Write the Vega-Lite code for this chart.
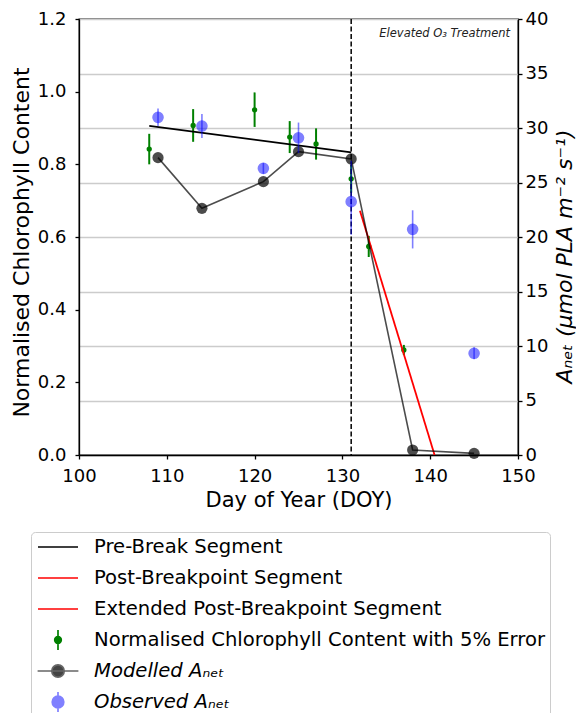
{
  "$schema": "https://vega.github.io/schema/vega-lite/v6.json",
  "width": 439,
  "height": 436,
  "autosize": {"type": "none"},
  "padding": {"left": 79, "top": 19, "right": 58, "bottom": 258},
  "background": "white",
  "config": {
    "font": "DejaVu Sans",
    "view": {"stroke": "black", "strokeWidth": 1.3},
    "axis": {
      "labelFont": "DejaVu Sans", "titleFont": "DejaVu Sans",
      "labelFontSize": 18, "titleFontSize": 21,
      "labelColor": "black", "titleColor": "black", "titleFontWeight": "normal",
      "tickColor": "black", "domainColor": "black", "tickSize": 4, "tickWidth": 1.3, "domainWidth": 1.3,
      "grid": false, "labelFlush": false
    }
  },
  "datasets": {
    "legend": [
      {"series": "Pre-Break Segment"},
      {"series": "Post-Breakpoint Segment"},
      {"series": "Extended Post-Breakpoint Segment"},
      {"series": "Normalised Chlorophyll Content with 5% Error"},
      {"series": "Modelled Aₙₑₜ"},
      {"series": "Observed Aₙₑₜ"}
    ],
    "chl": [
      {"doy": 108, "chl": 0.842, "lo": 0.800, "hi": 0.884},
      {"doy": 113, "chl": 0.907, "lo": 0.862, "hi": 0.952},
      {"doy": 120, "chl": 0.950, "lo": 0.903, "hi": 0.998},
      {"doy": 124, "chl": 0.875, "lo": 0.831, "hi": 0.919},
      {"doy": 127, "chl": 0.856, "lo": 0.813, "hi": 0.899},
      {"doy": 131, "chl": 0.760, "lo": 0.722, "hi": 0.798},
      {"doy": 133, "chl": 0.574, "lo": 0.545, "hi": 0.603},
      {"doy": 137, "chl": 0.289, "lo": 0.275, "hi": 0.303}
    ],
    "prebreak": [
      {"doy": 108, "chl": 0.906},
      {"doy": 131, "chl": 0.833}
    ],
    "post": [
      {"doy": 132, "chl": 0.672, "seg": "post"},
      {"doy": 137, "chl": 0.277, "seg": "post"},
      {"doy": 137, "chl": 0.277, "seg": "ext"},
      {"doy": 140.5, "chl": 0.0, "seg": "ext"}
    ],
    "vline": [{"doy": 131}],
    "note": [{"doy": 149.1, "chl": 1.16, "label": "Elevated O₃ Treatment"}],
    "modelled": [
      {"doy": 109, "anet": 27.28},
      {"doy": 114, "anet": 22.63},
      {"doy": 121, "anet": 25.08},
      {"doy": 125, "anet": 27.83},
      {"doy": 131, "anet": 27.16},
      {"doy": 138, "anet": 0.46},
      {"doy": 145, "anet": 0.15}
    ],
    "observed": [
      {"doy": 109, "anet": 30.98, "lo": 30.18, "hi": 31.78},
      {"doy": 114, "anet": 30.18, "lo": 29.08, "hi": 31.28},
      {"doy": 121, "anet": 26.3, "lo": 25.8, "hi": 26.8},
      {"doy": 125, "anet": 29.1, "lo": 27.7, "hi": 30.5},
      {"doy": 131, "anet": 23.24, "lo": 20.2, "hi": 27.0},
      {"doy": 138, "anet": 20.7, "lo": 18.95, "hi": 22.45},
      {"doy": 145, "anet": 9.33, "lo": 8.78, "hi": 9.88}
    ]
  },
  "layer": [
    {
      "data": {"name": "legend"},
      "transform": [{"filter": "false"}],
      "mark": {"type": "point", "filled": true, "opacity": 1},
      "encoding": {
        "fill": {
          "field": "series", "type": "nominal",
          "scale": {
            "domain": ["Pre-Break Segment", "Post-Breakpoint Segment", "Extended Post-Breakpoint Segment", "Normalised Chlorophyll Content with 5% Error", "Modelled Aₙₑₜ", "Observed Aₙₑₜ"],
            "range": ["black", "red", "red", "green", "#444444", "#8080ff"]
          },
          "legend": {
            "orient": "none", "legendX": -48, "legendY": 513, "title": null, "direction": "vertical",
            "labelFont": "DejaVu Sans", "labelFontSize": 19.6, "labelColor": "black", "labelLimit": 600,
            "labelFontStyle": {"expr": "indexof(['Modelled Aₙₑₜ', 'Observed Aₙₑₜ'], datum.value) >= 0 ? 'italic' : 'normal'"},
            "symbolSize": 400, "symbolStrokeWidth": 1.7, "symbolOffset": 12, "labelOffset": 25,
            "gridAlign": "all", "rowPadding": 3, "padding": 4,
            "fillColor": "white", "strokeColor": "#cccccc", "cornerRadius": 4
          }
        },
        "stroke": {
          "field": "series", "type": "nominal",
          "scale": {
            "domain": ["Pre-Break Segment", "Post-Breakpoint Segment", "Extended Post-Breakpoint Segment", "Normalised Chlorophyll Content with 5% Error", "Modelled Aₙₑₜ", "Observed Aₙₑₜ"],
            "range": ["black", "red", "red", "green", "#666666", "#8080ff"]
          }
        },
        "shape": {
          "field": "series", "type": "nominal",
          "scale": {
            "domain": ["Pre-Break Segment", "Post-Breakpoint Segment", "Extended Post-Breakpoint Segment", "Normalised Chlorophyll Content with 5% Error", "Modelled Aₙₑₜ", "Observed Aₙₑₜ"],
            "range": [
              "M-2,0H2",
              "M-2,0H2",
              "M-2,0H2",
              "M0,-1V1M0.33,0A0.33,0.33,0,1,1,-0.33,0A0.33,0.33,0,1,1,0.33,0",
              "M-2.04,0H2.04M0.62,0A0.62,0.62,0,1,1,-0.62,0A0.62,0.62,0,1,1,0.62,0",
              "M0,-1V1M0.58,0A0.58,0.58,0,1,1,-0.58,0A0.58,0.58,0,1,1,0.58,0"
            ]
          }
        }
      }
    },
    {
      "layer": [
        {
          "data": {"name": "chl"},
          "mark": {"type": "rule", "color": "green", "strokeWidth": 2},
          "encoding": {
            "x": {"field": "doy", "type": "quantitative", "title": "Day of Year (DOY)", "scale": {"domain": [100, 150], "nice": false}, "axis": {"values": [100, 110, 120, 130, 140, 150], "format": "d", "labelPadding": 8, "titlePadding": 4}},
            "y": {"field": "lo", "type": "quantitative", "title": "Normalised Chlorophyll Content", "scale": {"domain": [0, 1.2], "nice": false},
                  "axis": {"orient": "left", "values": [0, 0.2, 0.4, 0.6, 0.8, 1.0, 1.2], "format": ".1f", "labelPadding": 9, "titlePadding": 4, "titleFontSize": 22, "titleY": 223}},
            "y2": {"field": "hi"}
          }
        },
        {
          "data": {"name": "chl"},
          "mark": {"type": "point", "filled": true, "color": "green", "size": 28, "opacity": 1},
          "encoding": {
            "x": {"field": "doy", "type": "quantitative", "title": "Day of Year (DOY)", "scale": {"domain": [100, 150], "nice": false}},
            "y": {"field": "chl", "type": "quantitative", "title": "Normalised Chlorophyll Content", "scale": {"domain": [0, 1.2], "nice": false}}
          }
        },
        {
          "data": {"name": "prebreak"},
          "mark": {"type": "line", "color": "black", "strokeWidth": 1.8},
          "encoding": {
            "x": {"field": "doy", "type": "quantitative", "title": "Day of Year (DOY)", "scale": {"domain": [100, 150], "nice": false}},
            "y": {"field": "chl", "type": "quantitative", "title": "Normalised Chlorophyll Content", "scale": {"domain": [0, 1.2], "nice": false}}
          }
        },
        {
          "data": {"name": "post"},
          "mark": {"type": "line", "color": "red", "strokeWidth": 1.8},
          "encoding": {
            "x": {"field": "doy", "type": "quantitative", "title": "Day of Year (DOY)", "scale": {"domain": [100, 150], "nice": false}},
            "y": {"field": "chl", "type": "quantitative", "title": "Normalised Chlorophyll Content", "scale": {"domain": [0, 1.2], "nice": false}},
            "detail": {"field": "seg", "type": "nominal"}
          }
        },
        {
          "data": {"name": "vline"},
          "mark": {"type": "rule", "color": "black", "strokeWidth": 1.5, "strokeDash": [5, 2.5]},
          "encoding": {
            "x": {"field": "doy", "type": "quantitative", "title": "Day of Year (DOY)", "scale": {"domain": [100, 150], "nice": false}}
          }
        },
        {
          "data": {"name": "note"},
          "mark": {"type": "text", "align": "right", "baseline": "middle", "fontSize": 11.5, "fontStyle": "italic", "font": "DejaVu Sans", "color": "#222222"},
          "encoding": {
            "x": {"field": "doy", "type": "quantitative", "title": "Day of Year (DOY)", "scale": {"domain": [100, 150], "nice": false}},
            "y": {"field": "chl", "type": "quantitative", "title": "Normalised Chlorophyll Content", "scale": {"domain": [0, 1.2], "nice": false}},
            "text": {"field": "label"}
          }
        }
      ]
    },
    {
      "layer": [
        {
          "data": {"name": "modelled"},
          "mark": {"type": "line", "color": "black", "strokeWidth": 1.6, "opacity": 0.7},
          "encoding": {
            "x": {"field": "doy", "type": "quantitative", "title": "Day of Year (DOY)", "scale": {"domain": [100, 150], "nice": false}},
            "y": {"field": "anet", "type": "quantitative", "title": "Aₙₑₜ (μmol PLA m⁻² s⁻¹)", "scale": {"domain": [0, 40], "nice": false},
                  "axis": {"orient": "right", "values": [0, 5, 10, 15, 20, 25, 30, 35, 40], "format": "d", "grid": true, "gridColor": "#cccccc", "gridWidth": 1.4,
                           "labelPadding": 3, "titleFontStyle": "italic", "titleAngle": 270, "titleBaseline": "middle", "titleAlign": "center", "titleX": 46, "titleY": 237, "titleFontSize": 22}}
          }
        },
        {
          "data": {"name": "modelled"},
          "mark": {"type": "point", "filled": true, "color": "black", "size": 125, "opacity": 0.7},
          "encoding": {
            "x": {"field": "doy", "type": "quantitative", "title": "Day of Year (DOY)", "scale": {"domain": [100, 150], "nice": false}},
            "y": {"field": "anet", "type": "quantitative", "title": "Aₙₑₜ (μmol PLA m⁻² s⁻¹)", "scale": {"domain": [0, 40], "nice": false}}
          }
        },
        {
          "data": {"name": "observed"},
          "mark": {"type": "rule", "color": "#0000ff", "strokeWidth": 1.6, "opacity": 0.5},
          "encoding": {
            "x": {"field": "doy", "type": "quantitative", "title": "Day of Year (DOY)", "scale": {"domain": [100, 150], "nice": false}},
            "y": {"field": "lo", "type": "quantitative", "title": "Aₙₑₜ (μmol PLA m⁻² s⁻¹)", "scale": {"domain": [0, 40], "nice": false}},
            "y2": {"field": "hi"}
          }
        },
        {
          "data": {"name": "observed"},
          "mark": {"type": "point", "filled": true, "color": "#0000ff", "size": 135, "opacity": 0.5},
          "encoding": {
            "x": {"field": "doy", "type": "quantitative", "title": "Day of Year (DOY)", "scale": {"domain": [100, 150], "nice": false}},
            "y": {"field": "anet", "type": "quantitative", "title": "Aₙₑₜ (μmol PLA m⁻² s⁻¹)", "scale": {"domain": [0, 40], "nice": false}}
          }
        }
      ]
    }
  ],
  "resolve": {"scale": {"y": "independent"}}
}
